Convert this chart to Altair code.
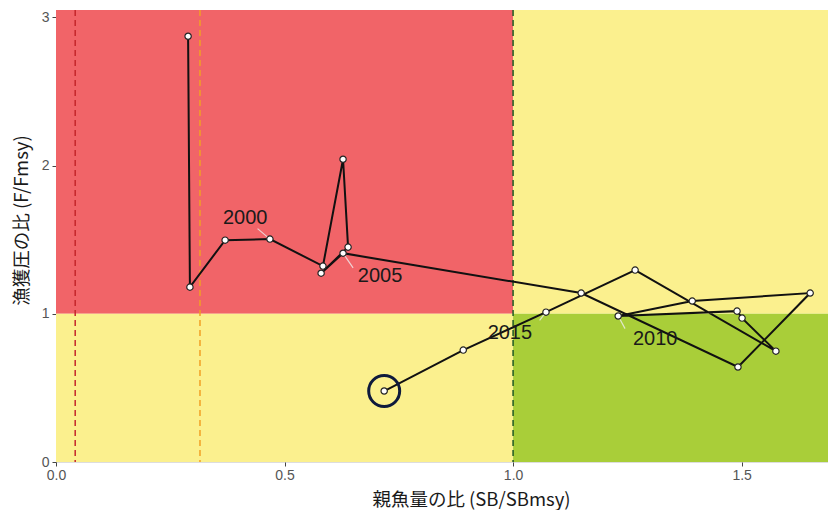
import altair as alt
import pandas as pd

# ---- data ----
years = list(range(1997, 2018))
sb_ratio = [0.289, 0.293, 0.370, 0.468, 0.584, 0.628, 0.639, 0.580, 0.628,
            1.149, 1.492, 1.650, 1.392, 1.230, 1.490, 1.501, 1.575, 1.267,
            1.072, 0.891, 0.718]
f_ratio = [2.873, 1.180, 1.497, 1.504, 1.322, 2.043, 1.450, 1.274, 1.409,
           1.140, 0.641, 1.140, 1.086, 0.985, 1.018, 0.971, 0.748, 1.295,
           1.011, 0.755, 0.479]

label_years = ["2000", "2005", "2010", "2015"]
label_x = [0.414, 0.709, 1.311, 0.993]
label_y = [1.645, 1.254, 0.829, 0.870]
leader_x = [0.441, 0.650, 1.245, 1.058]
leader_y = [1.575, 1.310, 0.900, 0.955]

ref_lines_x = [0.042, 0.315, 1.0]
ref_lines_col = ["#C4262B", "#F2A024", "#1F5A22"]

XMAX = 1.689
YMAX = 3.05

zones = pd.DataFrame({
    "x0": [0.0, 1.0, 0.0, 1.0],
    "x1": [1.0, XMAX, 1.0, XMAX],
    "y0": [1.0, 1.0, 0.0, 0.0],
    "y1": [YMAX, YMAX, 1.0, 1.0],
    "col": ["#F16468", "#FBF08E", "#FBF08E", "#A9CE39"],
})

traj = pd.DataFrame({"year": years, "sb": sb_ratio, "f": f_ratio})
labels = pd.DataFrame({"lab": label_years, "lx": label_x, "ly": label_y,
                       "ex": leader_x, "ey": leader_y,
                       "px": [sb_ratio[years.index(int(y))] for y in label_years],
                       "py": [f_ratio[years.index(int(y))] for y in label_years]})
vlines = pd.DataFrame({"x": ref_lines_x, "col": ref_lines_col})
last = traj.tail(1)

xs = alt.Scale(domain=[0, XMAX], nice=False, zero=False)
ys = alt.Scale(domain=[0, YMAX], nice=False, zero=False)

xax = alt.Axis(values=[0, 0.5, 1.0, 1.5], format=".1f", title="親魚量の比 (SB/SBmsy)",
               grid=False, domain=False, tickColor="#444444", tickSize=4,
               labelColor="#555555", labelFontSize=14, labelFont="Liberation Sans",
               labelFlush=False,
               titleFont="Noto Sans CJK JP", titleFontSize=18.5, titleFontWeight="normal",
               titleColor="#1A1A1A", titlePadding=8, labelPadding=2, titleX=415)
yax = alt.Axis(values=[0, 1, 2, 3], format="d", title="漁獲圧の比 (F/Fmsy)",
               grid=False, domain=False, tickColor="#444444", tickSize=4,
               labelColor="#555555", labelFontSize=14, labelFont="Liberation Sans",
               labelFlush=False,
               titleFont="Noto Sans CJK JP", titleFontSize=18.5, titleFontWeight="normal",
               titleColor="#1A1A1A", labelPadding=3, titleX=-35, titleY=210,
               titleBaseline="middle")

bg = alt.Chart(zones).mark_rect().encode(
    x=alt.X("x0:Q", scale=xs, axis=xax), x2="x1:Q",
    y=alt.Y("y0:Q", scale=ys, axis=yax), y2="y1:Q",
    color=alt.Color("col:N", scale=None),
)

vl = alt.Chart(vlines).mark_rule(strokeDash=[6, 4], strokeWidth=1.5).encode(
    x=alt.X("x:Q", scale=xs),
    color=alt.Color("col:N", scale=None),
)

line = alt.Chart(traj).mark_line(color="#111111", strokeWidth=2).encode(
    x=alt.X("sb:Q", scale=xs), y=alt.Y("f:Q", scale=ys), order="year:O"
)

leaders = alt.Chart(labels).mark_rule(color="#EDEDED", strokeWidth=1.2, opacity=0.8).encode(
    x=alt.X("px:Q", scale=xs), y=alt.Y("py:Q", scale=ys), x2="ex:Q", y2="ey:Q"
)

pts = alt.Chart(traj).mark_point(filled=True, fill="white", stroke="#222222",
                                 strokeWidth=1.2, size=40, opacity=1).encode(
    x=alt.X("sb:Q", scale=xs), y=alt.Y("f:Q", scale=ys)
)

txt = alt.Chart(labels).mark_text(font="Liberation Sans", fontSize=20,
                                  color="#1A1A1A").encode(
    x=alt.X("lx:Q", scale=xs), y=alt.Y("ly:Q", scale=ys), text="lab:N"
)

ring = alt.Chart(last).mark_point(shape="circle", filled=False, stroke="#0E1A3C",
                                  strokeWidth=3, size=960, opacity=1).encode(
    x=alt.X("sb:Q", scale=xs), y=alt.Y("f:Q", scale=ys)
)

chart = alt.layer(bg, vl, line, leaders, pts, txt, ring).properties(
    width=772, height=452,
    autosize=alt.AutoSizeParams(type="none"),
    padding={"left": 48, "top": 2, "right": 0, "bottom": 50},
).configure_view(stroke=None).configure(background="white")

chart.save("out.html", embed_options={"renderer": "svg", "actions": False})
